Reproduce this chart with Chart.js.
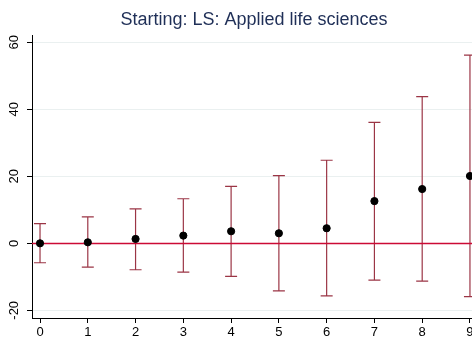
<!DOCTYPE html>
<html>
<head>
<meta charset="utf-8">
<script src="https://cdn.jsdelivr.net/npm/chart.js@4/dist/chart.umd.min.js"></script>
<style>
  html, body { margin: 0; padding: 0; background: #fff; overflow: hidden; }
  #wrap { position: relative; width: 508px; height: 338px; }
</style>
</head>
<body>
<div id="wrap"><canvas id="coefChart"></canvas></div>
<script>
/* -------------------------------------------------------
   Data
------------------------------------------------------- */
const periods   = [0, 1, 2, 3, 4, 5, 6, 7, 8, 9];
const estimates = [0, 0.3, 1.3, 2.3, 3.6, 3.0, 4.5, 12.6, 16.2, 20.1];
const ciUpper   = [5.85, 7.9, 10.3, 13.3, 17.0, 20.2, 24.8, 36.1, 43.8, 56.2];
const ciLower   = [-5.8, -7.1, -7.9, -8.6, -9.9, -14.2, -15.7, -11.0, -11.3, -15.9];
const yTicks    = [-20, 0, 20, 40, 60];
const titleText = 'Starting: LS: Applied life sciences';

const COLORS = {
  bar:   '#9b3545',
  zero:  '#cc0a35',
  point: '#000000',
  grid:  '#eaf0f0',
  title: '#1f2f57',
};

/* -------------------------------------------------------
   Error bars + zero reference line
------------------------------------------------------- */
const errorBars = {
  id: 'errorBars',
  beforeDatasetsDraw(chart) {
    const { ctx, scales: { x, y }, chartArea } = chart;
    ctx.save();
    ctx.beginPath();
    ctx.rect(chartArea.left, chartArea.top - 10, chartArea.right - chartArea.left, chartArea.bottom - chartArea.top + 20);
    ctx.clip();
    ctx.strokeStyle = COLORS.bar;
    ctx.lineWidth = 1.2;
    periods.forEach((p, i) => {
      const px = x.getPixelForValue(p);
      const top = y.getPixelForValue(ciUpper[i]);
      const bot = y.getPixelForValue(ciLower[i]);
      ctx.beginPath();
      ctx.moveTo(px, top); ctx.lineTo(px, bot);
      ctx.moveTo(px - 6, top); ctx.lineTo(px + 6, top);
      ctx.moveTo(px - 6, bot); ctx.lineTo(px + 6, bot);
      ctx.stroke();
    });
    // zero line
    const zy = Math.round(y.getPixelForValue(0)) + 0.5;
    ctx.strokeStyle = COLORS.zero;
    ctx.lineWidth = 1.3;
    ctx.beginPath();
    ctx.moveTo(chartArea.left, zy);
    ctx.lineTo(chartArea.right, zy);
    ctx.stroke();
    ctx.restore();
  }
};

new Chart(document.getElementById('coefChart'), {
  type: 'scatter',
  data: {
    datasets: [{
      label: 'Estimate',
      data: periods.map((p, i) => ({ x: p, y: estimates[i] })),
      backgroundColor: COLORS.point,
      borderColor: COLORS.point,
      pointRadius: 3.6,
      pointHoverRadius: 3.6,
    }]
  },
  options: {
    responsive: true,
    maintainAspectRatio: false,
    animation: false,
    layout: { padding: 0 },
    plugins: {
      legend: { display: false },
      tooltip: { enabled: false },
      title: {
        display: true,
        text: titleText,
        color: COLORS.title,
        font: { family: "'Liberation Sans', Arial, sans-serif", size: 18, weight: 'normal' },
        padding: { top: 9, bottom: 4.4 }
      }
    },
    scales: {
      x: {
        type: 'linear',
        min: -0.168,
        max: 9.70,
        afterBuildTicks: s => { s.ticks = periods.map(v => ({ value: v })); },
        afterFit: s => { s.height = 20; },
        grid: { drawOnChartArea: false, drawTicks: true, tickLength: 5, tickColor: '#000' },
        border: { color: '#000', width: 1 },
        ticks: {
          color: '#000',
          padding: 2,
          maxRotation: 0,
          font: { family: "'Liberation Sans', Arial, sans-serif", size: 13 }
        }
      },
      y: {
        min: -22.3,
        max: 62.2,
        afterBuildTicks: s => { s.ticks = yTicks.map(v => ({ value: v })); },
        afterFit: s => { s.width = 32; },
        grid: { color: COLORS.grid, lineWidth: 1, drawTicks: true, tickLength: 5, tickColor: '#000' },
        border: { color: '#000', width: 1 },
        ticks: {
          color: '#000',
          padding: 3,
          minRotation: 90,
          maxRotation: 90,
          crossAlign: 'center',
          font: { family: "'Liberation Sans', Arial, sans-serif", size: 13 }
        }
      }
    }
  },
  plugins: [errorBars]
});
</script>
</body>
</html>
